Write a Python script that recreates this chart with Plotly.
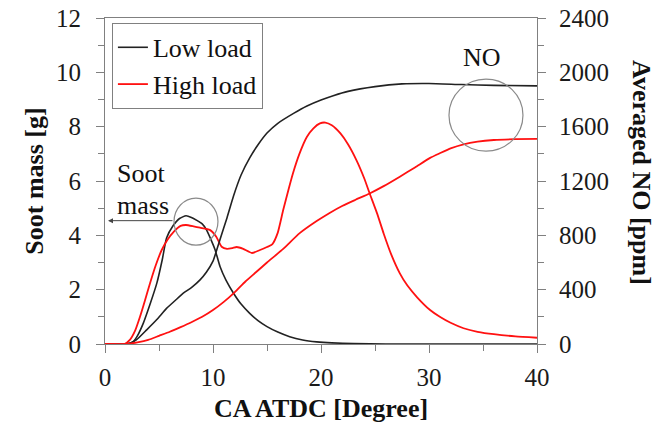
import plotly.graph_objects as go

# Crank angle after top dead centre [deg] and in-cylinder soot mass [g]
ca_soot_low = [0, 2.0, 2.6, 3.0, 3.55, 4.2, 4.8, 5.3, 5.7, 6.3, 6.9, 7.5, 8.0, 8.5, 9.0, 9.4,
               9.8, 10.2, 10.65, 11.2, 11.9, 12.6, 13.4, 14.2, 15.0, 16.0, 17.1, 18.3, 19.6,
               21.0, 23.0, 26.0, 30.0, 40.0]
soot_low = [0, 0, 0.08, 0.3, 0.77, 1.5, 2.24, 3.1, 3.9, 4.35, 4.62, 4.72, 4.66, 4.55, 4.42, 4.2,
            3.85, 3.46, 2.85, 2.35, 1.87, 1.47, 1.13, 0.85, 0.64, 0.44, 0.27, 0.15, 0.08,
            0.04, 0.015, 0.0, 0.0, 0.0]

ca_soot_high = [0, 1.8, 2.3, 2.8, 3.24, 3.7, 4.17, 4.7, 5.25, 5.8, 6.4, 7.0, 7.5, 8.2, 8.8, 9.7,
                10.3, 10.8, 11.3, 11.8, 12.2, 12.8, 13.6, 14.3, 15.0, 15.5, 16.0, 16.5, 17.0,
                17.4, 18.0, 18.7, 19.3, 19.9, 20.4, 21.0, 21.8, 22.5, 23.3, 24.0, 24.5, 25.2,
                25.8, 26.5, 27.3, 28.0, 28.9, 30.1, 31.0, 32.0, 33.2, 34.5, 36.0, 38.0, 40.0]
soot_high = [0, 0, 0.15, 0.5, 1.0, 1.6, 2.24, 2.9, 3.46, 3.85, 4.15, 4.35, 4.38, 4.33, 4.28, 4.2,
             3.95, 3.58, 3.5, 3.53, 3.57, 3.5, 3.35, 3.45, 3.57, 3.68, 4.1, 4.93, 5.7,
             6.28, 7.0, 7.63, 7.94, 8.12, 8.15, 8.05, 7.75, 7.35, 6.75, 6.1, 5.55, 4.8,
             4.07, 3.3, 2.6, 2.15, 1.72, 1.25, 1.0, 0.78, 0.58, 0.45, 0.36, 0.28, 0.23]

# Cylinder-averaged NO [ppm]
ca_no_low = [0, 2.0, 2.9, 3.86, 4.8, 5.7, 6.5, 7.25, 8.0, 8.8, 9.4, 10.0, 10.65, 11.3, 11.9,
             12.6, 13.4, 14.2, 15.0, 16.0, 17.5, 18.7, 20.0, 21.2, 22.5, 25.0, 27.5, 30.0,
             33.0, 36.0, 40.0]
no_low = [0, 0, 30, 104, 180, 262, 320, 374, 415, 472, 530, 610, 770, 930, 1090,
          1244, 1370, 1470, 1553, 1625, 1700, 1752, 1796, 1830, 1860, 1895, 1915, 1918,
          1910, 1904, 1900]

ca_no_high = [0, 2.0, 3.0, 4.0, 5.0, 6.0, 7.0, 8.0, 9.0, 10.0, 11.0, 12.0, 13.0, 14.0, 15.0,
              16.5, 18.0, 19.6, 20.8, 22.0, 23.2, 24.5, 25.8, 27.3, 28.7, 30.1, 31.0, 32.0,
              33.2, 34.5, 36.0, 38.0, 40.0]
no_high = [0, 0, 12, 30, 60, 90, 124, 160, 200, 250, 310, 380, 460, 530, 600,
           700, 814, 905, 965, 1018, 1062, 1108, 1162, 1232, 1300, 1370, 1404, 1440,
           1470, 1490, 1502, 1508, 1510]

x_ticks = [0, 10, 20, 30, 40]
soot_ticks = [0, 2, 4, 6, 8, 10, 12]
no_ticks = [0, 400, 800, 1200, 1600, 2000, 2400]

series_names = ["Low load", "High load"]
BLACK = "#222222"
RED = "#ff1111"
AXIS = "#808080"
FONT = "Liberation Serif, Tinos, Times New Roman, serif"

fig = go.Figure()
fig.add_trace(go.Scatter(x=ca_soot_low, y=soot_low, name=series_names[0], mode="lines",
                         line=dict(color=BLACK, width=1.6, shape="spline", smoothing=0.5)))
fig.add_trace(go.Scatter(x=ca_soot_high, y=soot_high, name=series_names[1], mode="lines",
                         line=dict(color=RED, width=1.8, shape="spline", smoothing=0.5)))
fig.add_trace(go.Scatter(x=ca_no_low, y=no_low, name=series_names[0], mode="lines", yaxis="y2",
                         showlegend=False,
                         line=dict(color=BLACK, width=1.6, shape="spline", smoothing=0.5)))
fig.add_trace(go.Scatter(x=ca_no_high, y=no_high, name=series_names[1], mode="lines", yaxis="y2",
                         showlegend=False,
                         line=dict(color=RED, width=1.8, shape="spline", smoothing=0.5)))

tick_font = dict(family=FONT, size=25, color="#1a1a1a")
title_font = dict(family=FONT, size=26, color="#111111")
text_font = dict(family=FONT, size=26, color="#111111")

common = dict(showgrid=False, zeroline=False, showline=True, linecolor=AXIS, linewidth=1.2,
              ticks="outside", ticklen=8, tickcolor=AXIS, tickwidth=1.2, tickfont=tick_font,
              automargin=False)

fig.update_layout(
    width=660, height=424,
    margin=dict(l=105, r=123, t=18, b=80),
    paper_bgcolor="white", plot_bgcolor="white",
    font=dict(family=FONT),
    xaxis=dict(range=[0, 40], tickvals=x_ticks, mirror=True,
               minor=dict(dtick=5, ticks="outside", ticklen=6, tickcolor=AXIS),
               ticklabelstandoff=3,
               title=dict(text="<b>CA ATDC [Degree]</b>", font=title_font, standoff=8),
               **common),
    yaxis=dict(range=[0, 12], tickvals=soot_ticks,
               minor=dict(dtick=1, ticks="outside", ticklen=6, tickcolor=AXIS),
               ticklabelstandoff=10,
               title=dict(text="<b>Soot mass [g]</b>", font=title_font, standoff=4),
               **common),
    yaxis2=dict(range=[0, 2400], tickvals=no_ticks, overlaying="y", side="right",
                minor=dict(dtick=200, ticks="outside", ticklen=6, tickcolor=AXIS),
                ticklabelstandoff=8,
                **common),
    legend=dict(x=0.016, y=0.985, xanchor="left", yanchor="top",
                bgcolor="white", bordercolor=AXIS, borderwidth=1,
                font=text_font, tracegroupgap=0),
    showlegend=True,
)

# Right-hand axis title, reading top to bottom
fig.add_annotation(text="<b>Averaged NO [ppm]</b>", xref="paper", yref="paper",
                   x=1.243, y=0.5245, xanchor="center", yanchor="middle",
                   textangle=90, showarrow=False, font=title_font)

# Highlight circles for the soot peak and the final NO level
fig.add_shape(type="circle", xref="x", yref="y", x0=6.39, x1=10.46, y0=3.64, y1=5.37,
              line=dict(color="#8a8a8a", width=1.2))
fig.add_shape(type="circle", xref="x", yref="y", x0=31.85, x1=38.7, y0=7.10, y1=9.75,
              line=dict(color="#8a8a8a", width=1.2))

# Labels pointing to the axes
fig.add_annotation(text="Soot", x=0.93, y=6.26, xref="x", yref="y",
                   xanchor="left", yanchor="middle", showarrow=False, font=text_font)
fig.add_annotation(text="mass", x=0.93, y=5.08, xref="x", yref="y",
                   xanchor="left", yanchor="middle", showarrow=False, font=text_font)
fig.add_annotation(text="", x=0.28, y=4.54, ax=6.39, ay=4.54, xref="x", yref="y",
                   axref="x", ayref="y", showarrow=True, arrowhead=2, arrowsize=1,
                   arrowwidth=1, arrowcolor="#444444")
fig.add_annotation(text="NO", x=34.9, y=10.56, xref="x", yref="y", showarrow=False,
                   font=text_font)

fig.write_html("out.html")
